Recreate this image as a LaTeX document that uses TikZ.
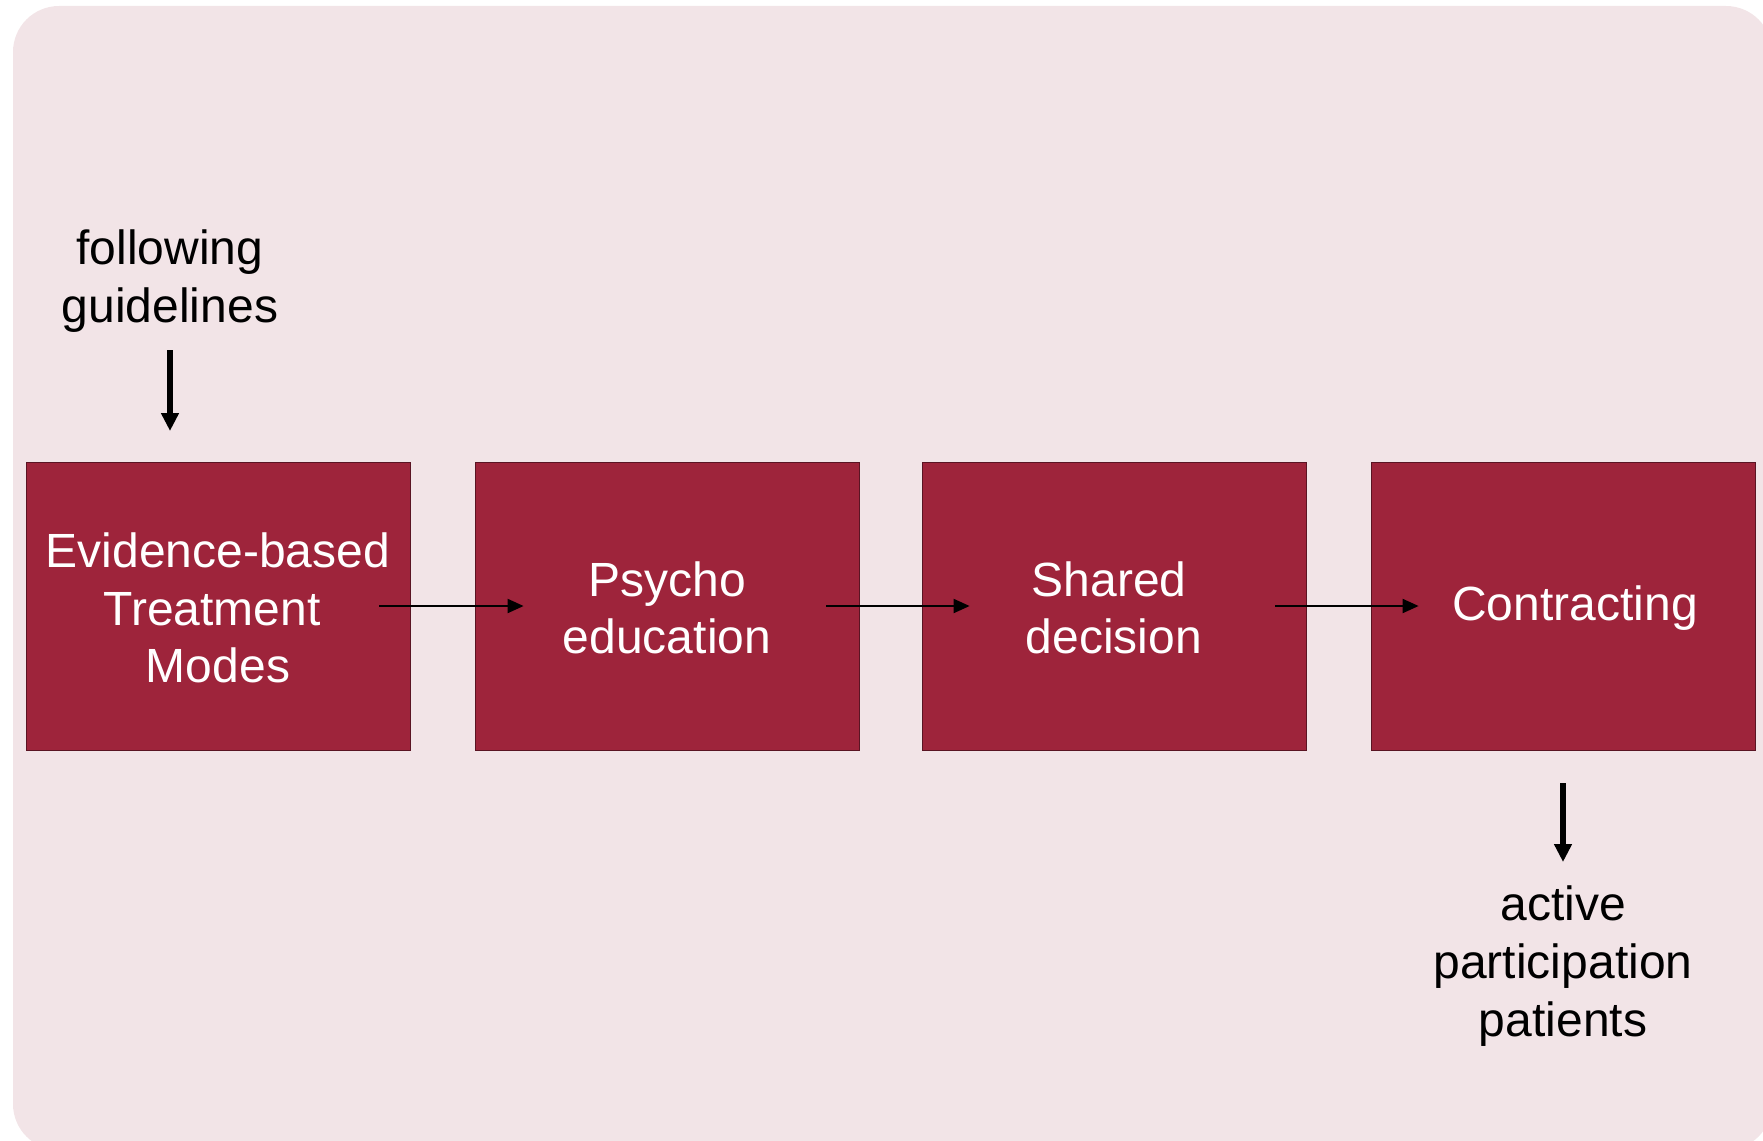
\documentclass[tikz,border=0pt]{standalone}
\usepackage{fontspec}
\setmainfont{Liberation Sans}
\usetikzlibrary{arrows.meta}
\definecolor{pinkbg}{RGB}{242,228,231}
\definecolor{boxred}{RGB}{158,36,59}
\definecolor{boxedge}{RGB}{90,20,35}
\begin{document}
\begin{tikzpicture}[x=1pt,y=-1pt,
  stage/.style={rectangle, fill=boxred, draw=boxedge, line width=0.8pt,
    minimum width=384pt, minimum height=288pt, inner sep=0pt,
    text=white, align=center, font=\fontsize{48}{57.6}\selectfont},
  stagetext/.style={align=center, inner sep=0pt, text=white, yshift=-2pt,
    font=\fontsize{48}{57.6}\selectfont},
  note/.style={align=center, inner sep=0pt, text=black, font=\fontsize{48}{57.6}\selectfont},
  flow/.style={line width=2pt, -{Triangle[length=16pt,width=14pt]}},
  bigflow/.style={line width=5.5pt, -{Triangle[length=18pt,width=17pt]}}]
\useasboundingbox (0,0) rectangle (1763,1140);
\fill[pinkbg, rounded corners=46pt] (13,6) rectangle (1772,1150);
\node[stage] (b1) at (218,606) {};
\node[stage] (b2) at (667,606) {};
\node[stage] (b3) at (1114,606) {};
\node[stage] (b4) at (1563,606) {};
\path (b1.center) node[stagetext] {Evidence-based\\Treatment\rule{12pt}{0pt}\\Modes};
\path (b2.center) node[stagetext] {Psycho\\education};
\path (b3.center) node[stagetext] {Shared\rule{10pt}{0pt}\\decision};
\path (b4.center) node[stagetext] {\rule{24pt}{0pt}Contracting};
\node[note] (top) at (170,281) {following\\guidelines};
\node[note] (bot) at (1563,966) {active\\participation\\patients};
\coordinate (t1) at (170,350);
\coordinate (t2) at (170,431);
\coordinate (u1) at (1563,783);
\coordinate (u2) at (1563,862);
\draw[bigflow] (t1) -- (t2);
\draw[bigflow] (u1) -- (u2);
\draw[flow] ([xshift=-31pt]b1.east) -- ([xshift=49pt]b2.west);
\draw[flow] ([xshift=-33pt]b2.east) -- ([xshift=48pt]b3.west);
\draw[flow] ([xshift=-31pt]b3.east) -- ([xshift=48pt]b4.west);
\end{tikzpicture}
\end{document}
